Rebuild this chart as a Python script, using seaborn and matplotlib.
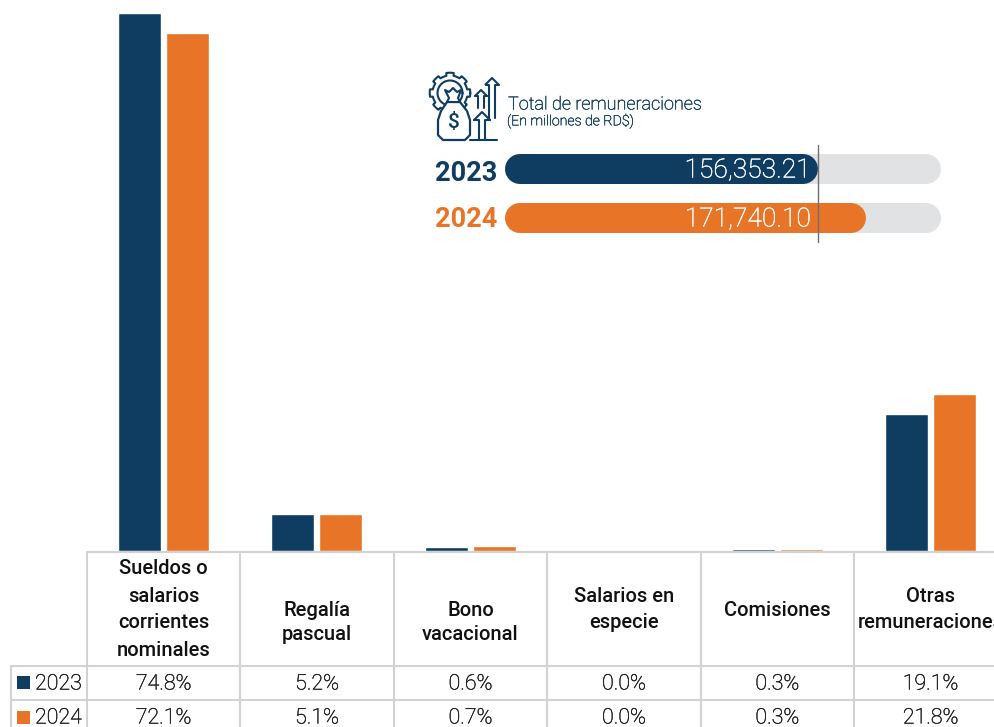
import numpy as np
import pandas as pd
import matplotlib
matplotlib.use("Agg")
import matplotlib.pyplot as plt
import matplotlib.patheffects as pe
from matplotlib.patches import Rectangle, Polygon
import seaborn as sns

categories = ["Sueldos o\nsalarios\ncorrientes\nnominales", "Regalía\npascual", "Bono\nvacacional",
              "Salarios en\nespecie", "Comisiones", "Otras\nremuneraciones"]
years = ["2023", "2024"]
values_2023 = [74.8, 5.2, 0.6, 0.0, 0.3, 19.1]
values_2024 = [72.1, 5.1, 0.7, 0.0, 0.3, 21.8]
total_labels = ["156,353.21", "171,740.10"]
total_fill = [0.718, 0.828]

NAVY = "#0F3C61"
ORANGE = "#E87527"
GRID = "#D2D2D2"
TRACK = "#E1E2E4"
INK = "#1C1C1C"
W, H = 995, 727

sns.set_theme(style="white")
plt.rcParams["font.family"] = ["Roboto", "DejaVu Sans"]

df = pd.DataFrame({
    "cat": categories * 2,
    "year": [years[0]] * 6 + [years[1]] * 6,
    "value": values_2023 + values_2024,
})

fig = plt.figure(figsize=(W / 100, H / 100), dpi=100)
ax = fig.add_axes([87 / W, 1 - 551 / H, (W - 87) / W, 551 / H])
sns.barplot(data=df, x="cat", y="value", hue="year", palette=[NAVY, ORANGE],
            width=0.625, gap=0.104, saturation=1, legend=False, ax=ax)
ax.set_xlim(-0.497, -0.497 + (W - 87) / 153.5)
ax.set_ylim(0, 551 / 7.19)
ax.axis("off")

ov = fig.add_axes([0, 0, 1, 1], zorder=5)
ov.set_xlim(0, W)
ov.set_ylim(H, 0)
ov.axis("off")
ov.patch.set_alpha(0)


def light(x, y, s, size, color, **kw):
    """Light-weight text, very slightly thickened to match the reference's stroke."""
    ov.text(x, y, s, va="center", fontsize=size, fontweight="light", color=color,
            path_effects=[pe.withStroke(linewidth=0.3, foreground=color)], **kw)


# table grid
cols = [87 + 153.4 * i for i in range(7)]
lw = 1.5
ov.plot([87, W], [552, 552], color=GRID, lw=lw)
for y in (666, 700):
    ov.plot([11, W], [y, y], color=GRID, lw=lw)
ov.plot([11, 11], [666, H], color=GRID, lw=lw)
for x in cols[:6]:
    ov.plot([x, x], [552, H], color=GRID, lw=lw)

# table text: header lines are set one by one because their spacing differs per cell
header_y = [[569, 596, 623, 650], [610, 634], [610, 634], [596, 623], [610], [596, 623]]
for i, c in enumerate(categories):
    cx = cols[i] + 76.7
    for line, ly in zip(c.split("\n"), header_y[i]):
        ov.text(cx, ly, line, ha="center", va="center", fontsize=14.5, fontweight="medium",
                color="#111111", clip_on=True)
    light(cx, 684, f"{values_2023[i]:.1f}%", 15.4, INK, ha="center")
    light(cx, 718, f"{values_2024[i]:.1f}%", 15.4, INK, ha="center")
for y, col, yr, ty in ((676, NAVY, years[0], 684), (711, ORANGE, years[1], 718)):
    ov.add_patch(Rectangle((17, y), 13, 13, color=col, lw=0))
    light(35, ty, yr, 15.4, INK, ha="left")

# pills
tx, tw, ph = 505, 436, 30
pill_lw = ph * 72 / 100
for yc, col, frac, lab, yr, yy in ((169, NAVY, total_fill[0], total_labels[0], years[0], 173.5),
                                   (218, ORANGE, total_fill[1], total_labels[1], years[1], 219.5)):
    for width, color in ((tw, TRACK), (tw * frac, col)):
        ov.plot([tx + ph / 2, tx + width - ph / 2], [yc, yc], color=color, lw=pill_lw,
                solid_capstyle="round")
    light(811, yc + 1.5, lab, 19, "white", ha="right")
    ov.text(497, yy, yr, ha="right", va="center", fontsize=19.5, fontweight="bold", color=col)
ov.plot([818, 818], [145, 242], color="#6E6E6E", lw=1)

light(508, 104.5, "Total de remuneraciones", 13, NAVY, ha="left")
light(507, 121, "(En millones de RD$)", 10.2, NAVY, ha="left")

# icon
ic = dict(color=NAVY, lw=1.5, solid_capstyle="round", solid_joinstyle="round")
theta = np.linspace(0, 2 * np.pi, 241)
r = 17.5 + 2.8 * (np.cos(theta * 8) > 0)
gx, gy = 450, 93
ov.plot(gx + r * np.cos(theta), gy - r * np.sin(theta), **ic)
ov.plot(gx + 12.5 * np.cos(theta), gy - 12.5 * np.sin(theta), **ic)
ov.add_patch(Polygon([(447, 102), (441, 111), (438, 120), (438, 135), (443, 140), (465, 140),
                      (470, 135), (470, 120), (467, 111), (460, 102)],
                     closed=True, facecolor="white", edgecolor=NAVY, lw=1.6, joinstyle="round", zorder=3))
ov.add_patch(Polygon([(445, 90), (449, 92), (453, 88), (457, 92), (461, 90), (458, 98), (460, 102), (447, 102), (449, 98)],
                     closed=True, facecolor="white", edgecolor=NAVY, lw=1.5, joinstyle="round", zorder=3))
ov.text(453.5, 122, "$", ha="center", va="center", fontsize=15, fontweight="medium", color=NAVY, zorder=4)
for x, top, bottom, hw in ((482, 112, 140, 8), (481, 90, 108, 6), (492, 78, 118, 6.5)):
    ov.plot([x - hw, x, x + hw], [top + hw, top, top + hw], **ic)
    ov.plot([x - hw, x - 3, x - 3], [top + hw, top + hw, bottom], **ic)
    ov.plot([x + hw, x + 3, x + 3], [top + hw, top + hw, bottom], **ic)
ov.plot([470, 497], [140, 140], **ic)

fig.savefig("out.png", dpi=100)
